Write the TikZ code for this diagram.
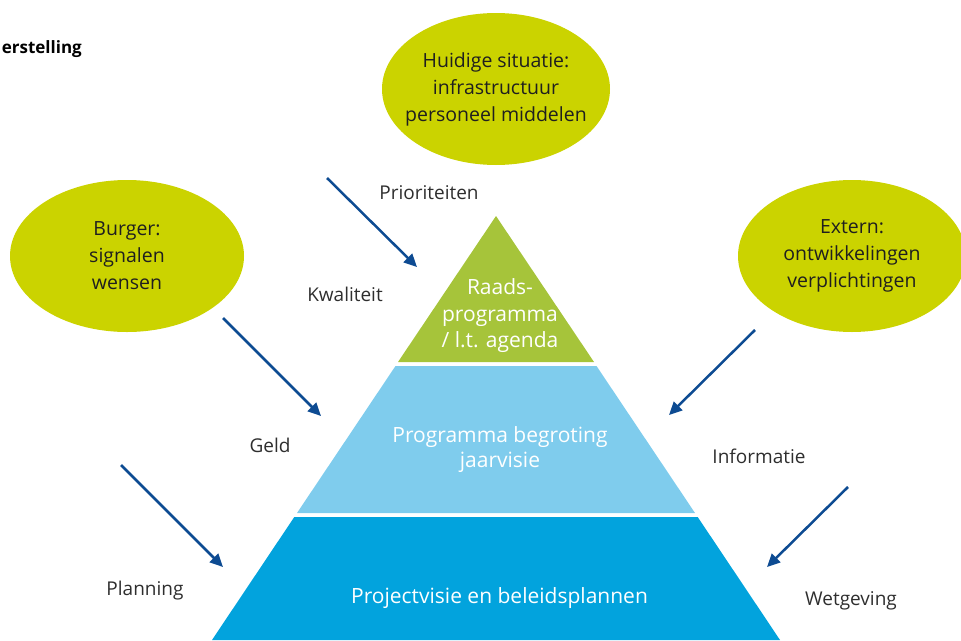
\documentclass[tikz,border=0pt]{standalone}
\usepackage{fontspec}
\setmainfont{Open Sans}
\usetikzlibrary{arrows.meta}

\definecolor{bubblegreen}{HTML}{CBD300}
\definecolor{topgreen}{HTML}{A6C43A}
\definecolor{midblue}{HTML}{7FCCED}
\definecolor{lowblue}{HTML}{02A3DD}
\definecolor{arrowblue}{HTML}{0D4B92}
\definecolor{factorgray}{HTML}{2E2E2E}

\begin{document}
\begin{tikzpicture}[x=1pt,y=-1pt]
        \tikzset{bubble/.style = {fill=bubblegreen}};
        \tikzset{bubbletext/.style = {align=center,text=black!88,font=\fontsize{19.5}{27}\selectfont}};
        \tikzset{layer/.style = {text=white,align=center}};
        \tikzset{factor/.style = {text=factorgray,anchor=base,inner sep=0pt,font=\fontsize{19}{24}\selectfont}};
        \tikzset{edge/.style = {-{Triangle[length=13pt,width=12pt]},line width=2.5pt,draw=arrowblue}};
        \useasboundingbox (0,0) rectangle (961,640);
        \clip (0,0) rectangle (961,640);
        % heading, cut off at the left edge
        \node[anchor=base east,inner sep=0pt,text=black,font=\fontsize{17}{20}\selectfont\bfseries] (title) at (82,53) {erstelling};
        % the three layers of the pyramid
        \fill[topgreen] (496,216) -- (594,362) -- (398,362) -- cycle;
        \fill[midblue] (395.5,366) -- (596.5,366) -- (695,513) -- (297,513) -- cycle;
        \fill[lowblue] (294.3,517) -- (697.7,517) -- (780,640) -- (212,640) -- cycle;
        \node[layer,font=\fontsize{21}{26.5}\selectfont] (raad) at (500,316) {Raads-\\programma\\/ l.t. agenda};
        \node[layer,font=\fontsize{21}{25}\selectfont] (begroting) at (500,450) {Programma begroting\\jaarvisie};
        \node[layer,anchor=base,inner sep=0pt,font=\fontsize{21}{25}\selectfont] (beleid) at (499.5,603) {Projectvisie en beleidsplannen};
        % sources
        \fill[bubble] (496,89) ellipse [x radius=114, y radius=76];
        \fill[bubble] (127,256) ellipse [x radius=117, y radius=76];
        \fill[bubble] (852,256) ellipse [x radius=114, y radius=76];
        \node[bubbletext] (huidig) at (496,89) {Huidige situatie:\\infrastructuur\\personeel middelen};
        \node[bubbletext] (burger) at (127,256) {Burger:\\signalen\\wensen};
        \node[bubbletext] (extern) at (852,256) {Extern:\\ontwikkelingen\\verplichtingen};
        % factors
        \node[factor] (prio) at (429,199) {Prioriteiten};
        \node[factor] (kwal) at (345,301) {Kwaliteit};
        \node[factor] (geld) at (270,452) {Geld};
        \node[factor] (plan) at (145,595) {Planning};
        \node[factor] (info) at (759,463) {Informatie};
        \node[factor] (wet) at (851,605) {Wetgeving};
        % arrows
        \coordinate (a1) at (327,178);
        \coordinate (b1) at (417,267);
        \coordinate (a2) at (223,318);
        \coordinate (b2) at (321,416);
        \coordinate (a3) at (121,465);
        \coordinate (b3) at (223,567);
        \coordinate (a4) at (755,330);
        \coordinate (b4) at (669,415);
        \coordinate (a5) at (848,487);
        \coordinate (b5) at (767,567);
        \draw[edge] (a1) -- (b1);
        \draw[edge] (a2) -- (b2);
        \draw[edge] (a3) -- (b3);
        \draw[edge] (a4) -- (b4);
        \draw[edge] (a5) -- (b5);
    \end{tikzpicture}
\end{document}
